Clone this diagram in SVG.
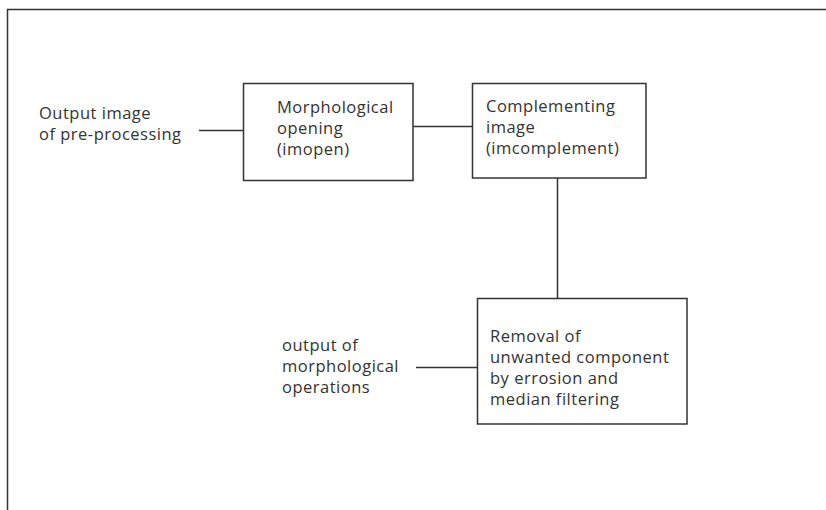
<svg xmlns="http://www.w3.org/2000/svg" width="826" height="510" viewBox="0 0 826 510">
<style>
.box{fill:#fff;stroke:#333;stroke-width:1.5}
.ln{stroke:#333;stroke-width:1.5;fill:none}
text{font-family:"Open Sans","Liberation Sans",sans-serif;font-size:16.5px;fill:#333;letter-spacing:0.5px}
</style>
<rect width="826" height="510" fill="#fff"/>
<path class="ln" d="M7.5,510 V9.5 H826"/>
<g id="connectors">
<line class="ln" x1="199" y1="130.5" x2="243" y2="130.5"/>
<line class="ln" x1="413" y1="126.5" x2="472" y2="126.5"/>
<line class="ln" x1="557.5" y1="178" x2="557.5" y2="298"/>
<line class="ln" x1="416" y1="367.5" x2="477" y2="367.5"/>
</g>
<g id="input-label">
<text x="39" y="119">Output image</text>
<text x="39" y="140">of pre-processing</text>
</g>
<g id="node-opening">
<rect class="box" x="243.5" y="83.5" width="169.5" height="97"/>
<text x="277" y="113">Morphological</text>
<text x="277" y="134">opening</text>
<text x="277" y="155">(imopen)</text>
</g>
<g id="node-complement">
<rect class="box" x="472.5" y="83.5" width="173.5" height="94.5"/>
<text x="486" y="112">Complementing</text>
<text x="486" y="133">image</text>
<text x="486" y="154">(imcomplement)</text>
</g>
<g id="node-removal">
<rect class="box" x="477.5" y="298.5" width="209.5" height="125.5"/>
<text x="490" y="342">Removal of</text>
<text x="490" y="363">unwanted component</text>
<text x="490" y="384">by errosion and</text>
<text x="490" y="405">median filtering</text>
</g>
<g id="output-label">
<text x="282" y="351">output of</text>
<text x="282" y="372">morphological</text>
<text x="282" y="393">operations</text>
</g>
</svg>
